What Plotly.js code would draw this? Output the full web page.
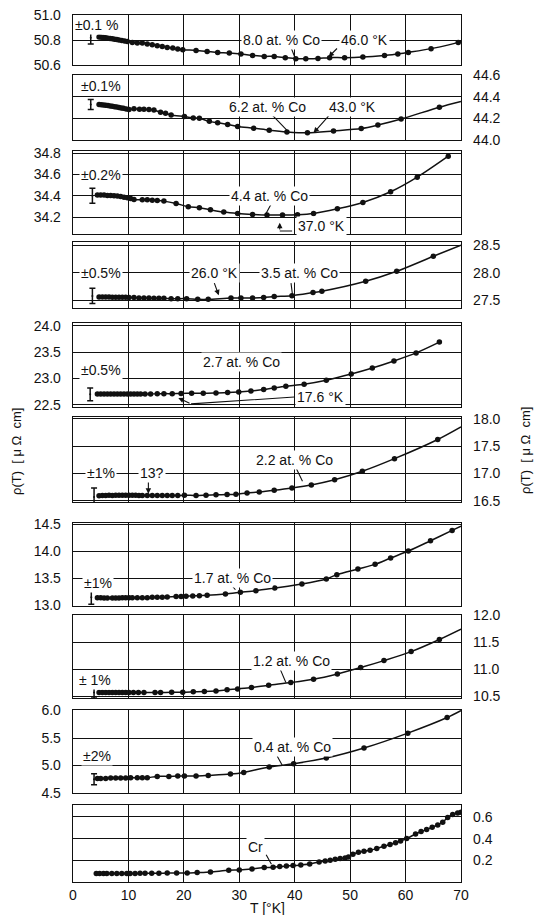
<!DOCTYPE html>
<html><head><meta charset="utf-8">
<script src="https://cdn.plot.ly/plotly-3.0.1.min.js"></script>
<style>html,body{margin:0;padding:0;background:#fff}#chart{width:534px;height:915px}</style>
</head><body><div id="chart"></div>
<script>
// ---------------- DATA ----------------
// 8.0 at.% Co
const co80T = [4.7,5.1,5.5,5.9,6.3,6.7,7.1,7.5,7.9,8.3,8.8,9.3,9.8,10.7,11.6,12.5,13.4,14.3,15.2,16.1,17.0,18.0,18.9,19.8,22.2,24.2,26.1,28.2,30.3,32.4,34.5,36.3,38.3,40.2,42.0,44.2,46.3,49.0,52.3,56.2,58.6,60.5,64.6,69.5];
const co80R = [50.824,50.822,50.820,50.818,50.815,50.812,50.810,50.807,50.804,50.801,50.797,50.793,50.788,50.781,50.776,50.776,50.768,50.763,50.755,50.749,50.741,50.736,50.728,50.723,50.717,50.709,50.701,50.696,50.688,50.677,50.669,50.669,50.659,50.651,50.651,50.653,50.659,50.659,50.664,50.677,50.688,50.701,50.731,50.781];
// 6.2 at.% Co
const co62T = [4.7,5.1,5.5,5.9,6.3,6.7,7.1,7.5,7.9,8.3,8.7,9.1,9.6,10.1,11.0,12.0,12.8,13.7,14.6,15.8,16.7,17.7,20.1,21.7,22.8,24.6,26.1,27.9,29.7,32.6,35.4,38.6,42.3,47.0,52.0,55.0,59.2,66.1];
const co62R = [44.328,44.326,44.324,44.321,44.318,44.315,44.312,44.308,44.304,44.300,44.296,44.292,44.287,44.282,44.288,44.285,44.283,44.281,44.276,44.256,44.247,44.231,44.216,44.203,44.200,44.172,44.159,44.144,44.125,44.109,44.091,44.075,44.066,44.084,44.106,44.138,44.194,44.303];
// 4.4 at.% Co
const co44T = [4.4,5.0,5.6,6.2,6.8,7.4,8.0,8.6,9.2,9.8,10.4,11.0,12.5,13.4,14.3,15.2,16.4,18.6,20.8,22.8,24.8,27.2,29.7,32.4,35.0,37.8,40.5,43.4,47.7,52.3,57.3,62.1,67.7];
const co44R = [34.408,34.408,34.408,34.405,34.405,34.402,34.399,34.396,34.389,34.383,34.377,34.368,34.365,34.365,34.361,34.358,34.352,34.330,34.300,34.290,34.271,34.250,34.237,34.228,34.222,34.222,34.225,34.237,34.281,34.340,34.439,34.576,34.772];
// 3.5 at.% Co
const co35T = [4.7,5.3,5.9,6.5,7.1,7.7,8.3,8.9,9.5,10.1,11.0,11.9,12.8,13.7,14.6,15.5,16.4,17.7,18.9,20.5,22.5,24.4,28.5,30.3,32.4,34.4,36.3,39.5,43.3,44.9,52.8,58.4,65.0];
const co35R = [27.561,27.561,27.561,27.561,27.555,27.555,27.555,27.555,27.555,27.549,27.549,27.542,27.542,27.542,27.536,27.536,27.536,27.530,27.530,27.530,27.518,27.518,27.542,27.542,27.542,27.549,27.567,27.585,27.640,27.664,27.845,28.027,28.300];
// 2.7 at.% Co
const co27T = [4.4,5.0,5.6,6.2,6.8,7.4,8.0,8.6,9.2,9.8,10.4,11.0,11.6,12.2,13.0,14.0,15.2,16.4,17.9,19.5,21.4,23.5,25.8,27.9,29.9,32.1,34.4,36.3,38.4,41.7,45.7,50.2,54.0,57.9,61.9,66.1];
const co27R = [22.707,22.707,22.707,22.707,22.707,22.707,22.707,22.707,22.707,22.707,22.707,22.707,22.707,22.707,22.707,22.707,22.710,22.713,22.713,22.716,22.720,22.720,22.726,22.733,22.745,22.764,22.790,22.822,22.854,22.892,22.968,23.083,23.197,23.331,23.484,23.688];
// 2.2 at.% Co
const co22T = [4.7,5.3,5.9,6.5,7.1,7.7,8.3,8.9,9.5,10.1,10.7,11.3,11.9,12.5,13.4,14.3,15.2,16.1,17.0,17.9,18.9,20.1,22.2,24.0,25.8,27.8,29.4,31.4,33.6,36.3,39.5,43.0,47.2,52.2,58.0,65.8];
const co22R = [16.592,16.598,16.598,16.604,16.598,16.604,16.604,16.604,16.604,16.604,16.604,16.604,16.598,16.598,16.598,16.598,16.598,16.598,16.598,16.598,16.598,16.604,16.598,16.604,16.610,16.616,16.622,16.646,16.664,16.695,16.737,16.792,16.886,17.040,17.270,17.620];
// 1.7 at.% Co
const co17T = [4.4,5.0,5.6,6.2,7.1,7.7,8.3,8.9,9.5,10.1,10.7,11.6,12.5,13.4,14.3,15.2,16.1,17.0,18.6,19.5,20.4,21.6,22.8,24.2,27.5,30.2,33.0,36.4,41.3,45.7,47.6,51.4,54.5,57.3,60.5,64.5,68.4];
const co17R = [13.144,13.144,13.138,13.138,13.138,13.138,13.138,13.144,13.144,13.144,13.144,13.144,13.144,13.144,13.150,13.150,13.150,13.157,13.163,13.163,13.169,13.175,13.181,13.187,13.212,13.242,13.273,13.322,13.396,13.488,13.568,13.672,13.758,13.874,14.003,14.193,14.383];
// 1.2 at.% Co
const co12T = [4.7,5.3,5.9,6.5,7.1,7.7,8.3,8.9,9.5,10.1,10.9,11.8,12.8,14.8,15.8,17.8,19.8,21.7,23.7,25.8,27.8,29.7,32.2,35.3,39.3,43.4,47.7,51.9,56.1,61.0,66.1];
const co12R = [10.570,10.570,10.570,10.570,10.570,10.570,10.570,10.570,10.570,10.570,10.570,10.570,10.570,10.570,10.570,10.577,10.577,10.583,10.589,10.601,10.620,10.638,10.663,10.706,10.755,10.816,10.914,11.031,11.159,11.325,11.549];
// 0.4 at.% Co
const co04T = [4.4,5.0,5.9,6.8,7.7,8.6,9.5,10.4,11.6,12.5,13.4,15.2,17.3,18.9,20.1,22.2,24.4,28.4,30.8,35.4,39.8,45.7,52.5,60.4,67.5];
const co04R = [4.766,4.766,4.766,4.772,4.772,4.772,4.772,4.778,4.778,4.778,4.778,4.802,4.802,4.808,4.808,4.808,4.820,4.845,4.875,4.972,5.032,5.135,5.317,5.589,5.873];
// Cr
const crT = [4.2,4.8,5.5,6.1,7.0,7.9,8.8,9.7,10.3,11.2,12.1,13.0,14.2,15.5,17.0,18.7,20.6,22.4,24.8,28.1,30.0,32.3,34.5,36.1,37.3,38.5,39.7,41.1,42.7,44.4,45.5,46.4,47.3,48.2,49.1,49.7,50.5,51.5,52.5,53.6,54.8,56.1,57.2,58.2,59.1,60.2,61.8,62.8,63.8,64.8,65.8,66.7,67.6,68.5,69.4,70.0];
const crR = [0.078,0.078,0.078,0.078,0.078,0.078,0.078,0.078,0.078,0.078,0.080,0.080,0.080,0.080,0.083,0.083,0.083,0.087,0.093,0.108,0.111,0.120,0.133,0.136,0.142,0.148,0.151,0.157,0.166,0.185,0.194,0.200,0.210,0.216,0.222,0.231,0.256,0.274,0.283,0.293,0.308,0.330,0.345,0.363,0.379,0.400,0.443,0.465,0.483,0.505,0.526,0.551,0.594,0.622,0.637,0.643];

// curve end points (where drawn line runs past the last dot)
const curveEndT = [70, 70, null, 70, null, 70, 70, 70, 70, null];
const curveEndR = [50.79, 44.356, null, 28.5, null, 17.85, 14.46, 11.74, 6.0, null];

// error bar at low T (value, half-length)
const errT = [3.2, 3.2, 3.5, 3.5, 3.1, 3.8, 3.3, 3.8, 3.8];
const errC = [50.818, 44.328, 34.403, 27.58, 22.70, 16.57, 13.15, 10.57, 4.75];
const errH = [0.05, 0.047, 0.07, 0.14, 0.12, 0.165, 0.13, 0.10, 0.10];

// tick labels
const xTicks = [0,10,20,30,40,50,60,70];
const yTicks = [
  [50.6,50.8,51.0],
  [44.0,44.2,44.4,44.6],
  [34.2,34.4,34.6,34.8],
  [27.5,28.0,28.5],
  [22.5,23.0,23.5,24.0],
  [16.5,17.0,17.5,18.0],
  [13.0,13.5,14.0,14.5],
  [10.5,11.0,11.5,12.0],
  [4.5,5.0,5.5,6.0],
  [0.2,0.4,0.6]
];

// ---------------- LAYOUT CONSTANTS ----------------
const H = 915;
const seriesT = [co80T,co62T,co44T,co35T,co27T,co22T,co17T,co12T,co04T,crT];
const seriesR = [co80R,co62R,co44R,co35R,co27R,co22R,co17R,co12R,co04R,crR];
const panelTop = [15, 75, 151, 242, 323, 417, 523, 615, 710, 805];
const panelBot = [65, 140, 234, 308, 407, 502, 606, 698, 793, 882];
const yRange = [[50.6,51.0],[44.0,44.6],[34.045,34.82],[27.36,28.56],[22.46,24.05],[16.48,18.03],[12.99,14.52],[10.47,12.0],[4.5,6.01],[0,0.71]];
const ySide = ['left','right','left','right','left','right','left','right','left','right'];

const FONT = 'Liberation Sans, Arial, Helvetica, sans-serif';
const ink = '#111';

const traces = [];
const layout = {
  width: 534, height: 915,
  margin: {l: 73, r: 73, t: 0, b: 0, pad: 0},
  paper_bgcolor: '#fff', plot_bgcolor: '#fff',
  showlegend: false,
  font: {family: FONT, size: 13, color: ink},
  xaxis: {
    range: [0, 70], tickvals: xTicks, ticktext: xTicks.map(String),
    anchor: 'y10', showgrid: true, gridcolor: ink, gridwidth: 1,
    showline: true, linecolor: ink, linewidth: 1.3, mirror: 'all',
    ticks: '', zeroline: false, tickfont: {size: 14, family: FONT, color: ink},
    fixedrange: true
  },
  annotations: [], shapes: []
};

for (let i = 0; i < 10; i++) {
  const ya = i === 0 ? 'y' : 'y' + (i + 1);
  const key = i === 0 ? 'yaxis' : 'yaxis' + (i + 1);
  layout[key] = {
    domain: [1 - panelBot[i] / H, 1 - panelTop[i] / H],
    range: yRange[i], tickvals: yTicks[i], ticktext: yTicks[i].map(v => v.toFixed(1)),
    side: ySide[i], anchor: 'x',
    showgrid: true, gridcolor: ink, gridwidth: 1,
    showline: true, linecolor: ink, linewidth: 1.3, mirror: true,
    ticks: '', zeroline: false, ticklabelstandoff: 8,
    tickfont: {size: 14, family: FONT, color: ink}, fixedrange: true
  };
  const lx = seriesT[i].slice(), ly = seriesR[i].slice();
  if (curveEndT[i] !== null) { lx.push(curveEndT[i]); ly.push(curveEndR[i]); }
  traces.push({x: lx, y: ly, xaxis: 'x', yaxis: ya, type: 'scatter', mode: 'lines',
    line: {color: ink, width: 1.5, shape: 'spline', smoothing: 0.8}, hoverinfo: 'skip'});
  traces.push({x: seriesT[i], y: seriesR[i], xaxis: 'x', yaxis: ya, type: 'scatter', mode: 'markers',
    marker: {color: ink, size: 5.5}, hoverinfo: 'skip'});
  if (i < errT.length) {
    traces.push({x: [errT[i]], y: [errC[i]], xaxis: 'x', yaxis: ya, type: 'scatter', mode: 'markers',
      marker: {color: ink, size: 2},
      error_y: {type: 'data', array: [errH[i]], visible: true, color: ink, thickness: 1.5, width: 3},
      cliponaxis: false, hoverinfo: 'skip'});
  }
}

// text labels: [panel, T, value, text]
const labels = [
  [0, 4.3, 50.92, '±0.1 %'], [0, 37.7, 50.8, '8.0 at. % Co'], [0, 52.6, 50.8, '46.0 °K'],
  [1, 5.0, 44.497, '±0.1%'], [1, 35.0, 44.30, '6.2 at. % Co'], [1, 50.5, 44.30, '43.0 °K'],
  [2, 5.0, 34.6, '±0.2%'], [2, 35.5, 34.4, '4.4 at. % Co'], [2, 44.8, 34.12, '37.0 °K'],
  [3, 5.0, 28.0, '±0.5%'], [3, 25.5, 28.0, '26.0 °K'], [3, 40.8, 28.0, '3.5 at. % Co'],
  [4, 5.0, 23.16, '±0.5%'], [4, 30.4, 23.32, '2.7 at. % Co'], [4, 44.7, 22.64, '17.6 °K'],
  [5, 5.0, 17.0, '±1%'], [5, 14.2, 17.0, '13?'], [5, 39.9, 17.24, '2.2 at. % Co'],
  [6, 4.5, 13.41, '±1%'], [6, 28.7, 13.5, '1.7 at. % Co'],
  [7, 3.9, 10.80, '± 1%'], [7, 39.5, 11.16, '1.2 at. % Co'],
  [8, 4.3, 5.165, '±2%'], [8, 39.6, 5.335, '0.4 at. % Co'],
  [9, 33.0, 0.323, 'Cr']
];
// pointers: [panel, tailT, tailV, tipT, tipV, arrowhead?]
const pointers = [
  [0, 39.3, 50.744, 40.0, 50.664, 0], [0, 47.9, 50.744, 46.1, 50.664, 1],
  [1, 35.7, 44.244, 38.7, 44.084, 0], [1, 46.5, 44.244, 43.4, 44.066, 1],
  [2, 36.0, 34.348, 34.7, 34.224, 0], [2, 39.8, 34.073, 37.3, 34.073, 0], [2, 37.3, 34.073, 37.3, 34.15, 1],
  [3, 25.4, 27.84, 26.3, 27.59, 1], [3, 39.3, 27.84, 39.6, 27.60, 0],
  [4, 40.2, 22.65, 21.3, 22.52, 0], [4, 21.3, 22.52, 19.0, 22.63, 1],
  [5, 13.6, 16.87, 13.6, 16.63, 1], [5, 40.2, 17.11, 41.4, 16.86, 0],
  [6, 28.1, 13.44, 29.3, 13.29, 0],
  [7, 37.3, 11.02, 38.4, 10.755, 0],
  [8, 36.7, 5.195, 37.8, 4.996, 0],
  [9, 34.7, 0.265, 35.8, 0.163, 0]
];
pointers.forEach(p => {
  const ya = p[0] === 0 ? 'y' : 'y' + (p[0] + 1);
  layout.annotations.push({x: p[3], y: p[4], ax: p[1], ay: p[2], xref: 'x', yref: ya, axref: 'x', ayref: ya,
    text: '', showarrow: true, arrowhead: p[5] ? 2 : 0, arrowsize: 1, arrowwidth: 1.1, arrowcolor: ink, standoff: 0, startstandoff: 0});
});
labels.forEach(l => {
  const ya = l[0] === 0 ? 'y' : 'y' + (l[0] + 1);
  layout.annotations.push({x: l[1], y: l[2], xref: 'x', yref: ya, text: l[3], showarrow: false,
    bgcolor: '#fff', borderpad: 1, font: {family: FONT, size: 14, color: ink}});
});
// axis titles
layout.annotations.push({xref: 'paper', yref: 'paper', x: (17 - 73) / 388, y: 1 - 452 / H, xanchor: 'center', yanchor: 'middle',
  text: 'ρ(T)  [ μ Ω  cm]', textangle: -90, showarrow: false, font: {family: FONT, size: 13, color: ink}});
layout.annotations.push({xref: 'paper', yref: 'paper', x: (525 - 73) / 388, y: 1 - 451 / H, xanchor: 'center', yanchor: 'middle',
  text: 'ρ(T)  [ μ Ω  cm]', textangle: -90, showarrow: false, font: {family: FONT, size: 13, color: ink}});
layout.annotations.push({xref: 'paper', yref: 'paper', x: 0.5, y: 1 - 908 / H, xanchor: 'center', yanchor: 'middle',
  text: 'T [°K]', showarrow: false, font: {family: FONT, size: 14, color: ink}});

Plotly.newPlot('chart', traces, layout, {staticPlot: true, displayModeBar: false});
</script></body></html>
